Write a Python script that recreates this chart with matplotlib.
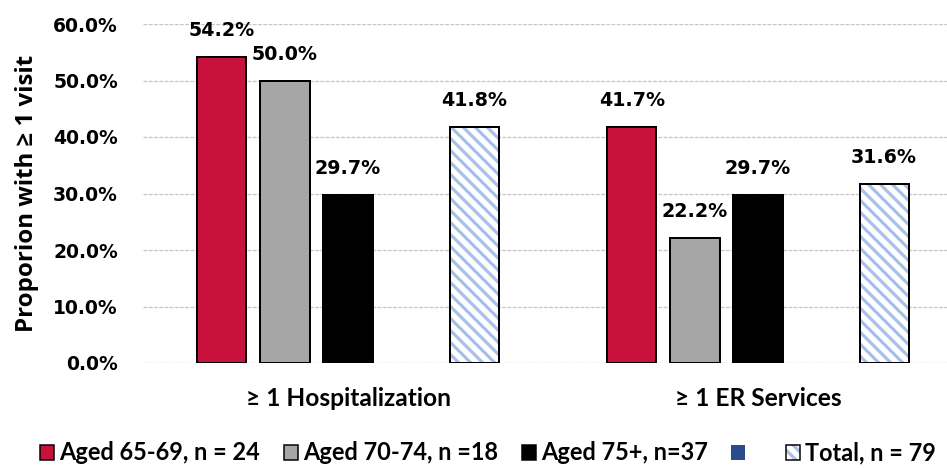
import numpy as np
import matplotlib
matplotlib.use("Agg")
import matplotlib.pyplot as plt
from matplotlib.patches import Patch
from matplotlib.legend_handler import HandlerTuple
from matplotlib.ticker import FuncFormatter

# Data (percent of patients with at least one visit)
categories = ["\u2265 1 Hospitalization", "\u2265 1 ER Services"]
aged_65_69 = [54.2, 41.7]
aged_70_74 = [50.0, 22.2]
aged_75_plus = [29.7, 29.7]
total = [41.8, 31.6]
series_labels = ["Aged 65-69, n = 24", "Aged 70-74, n =18", "Aged 75+, n=37", "  ", "Total, n = 79"]
y_ticks = [0, 10, 20, 30, 40, 50, 60]

RED = "#C9123B"
GRAY = "#A6A6A6"
BLACK = "#000000"
BLUE = "#2B4C8C"
HATCH_BLUE = "#A9C1E8"

plt.rcParams["hatch.linewidth"] = 3.2

fig = plt.figure(figsize=(947 / 72, 468 / 72), dpi=72)
ax = fig.add_axes([143 / 947, 105 / 468, 804 / 947, 339 / 468])

x = np.arange(len(categories))
slot = 1 / 6.5
width = 0.12

def offset(i):
    return (i - 2) * slot

bar_specs = [
    (aged_65_69, RED, 0),
    (aged_70_74, GRAY, 1),
    (aged_75_plus, BLACK, 2),
]
containers = []
for vals, col, i in bar_specs:
    c = ax.bar(x + offset(i), vals, width, color=col, edgecolor="black",
               linewidth=2, zorder=3)
    containers.append((c, vals))

# Total: light-blue diagonal hatch under a black outline
ax.bar(x + offset(4), total, width, color="white", edgecolor=HATCH_BLUE,
       hatch="\\\\", linewidth=0, zorder=3)
c_tot = ax.bar(x + offset(4), total, width, fill=False, edgecolor="black",
               linewidth=2, zorder=4)
containers.append((c_tot, total))

for c, vals in containers:
    ax.bar_label(c, labels=[f"{v:.1f}%" for v in vals], padding=17,
                 fontsize=19, fontweight="bold", family="DejaVu Sans")

ax.set_ylim(0, 60)
ax.set_yticks(y_ticks)
ax.yaxis.set_major_formatter(FuncFormatter(lambda v, p: f"{v:.1f}%"))
ax.set_xlim(-0.5, -0.5 + 804 / 410)
ax.set_xticks(x)
ax.set_xticklabels(categories, family="Lato", fontweight="bold", fontsize=24.5)

ax.tick_params(axis="y", length=0, pad=25, labelsize=18.75)
for lab in ax.get_yticklabels():
    lab.set_fontweight("bold")
    lab.set_family("DejaVu Sans")
ax.tick_params(axis="x", length=0, pad=24)

for s in ax.spines.values():
    s.set_visible(False)
ax.yaxis.grid(True, color="#C8C8C8", linewidth=1.3, linestyle=(0, (3, 1)), zorder=0)
ax.set_axisbelow(True)

ax.set_ylabel("Proporion with \u2265 1 visit", fontsize=24, fontweight="bold",
              family="Open Sans", va="center")
ax.yaxis.set_label_coords((27 - 143) / 804, 0.5)

# Legend
h_red = Patch(facecolor=RED, edgecolor="black", linewidth=1.5)
h_gray = Patch(facecolor=GRAY, edgecolor="black", linewidth=1.5)
h_black = Patch(facecolor=BLACK, edgecolor="black", linewidth=1.5)
h_blue = Patch(facecolor=BLUE, edgecolor="none")
h_tot = (Patch(facecolor="white", edgecolor=HATCH_BLUE, hatch="\\\\", linewidth=0),
         Patch(fill=False, edgecolor="black", linewidth=1.5))
fig.legend([h_red, h_gray, h_black, h_blue, h_tot], series_labels,
           handler_map={tuple: HandlerTuple(ndivide=1)},
           loc="center", bbox_to_anchor=(488 / 947, 15 / 468), ncol=5,
           frameon=False, prop={"family": "Lato", "weight": "bold", "size": 23.5},
           handlelength=0.6, handleheight=0.6, handletextpad=0.22,
           columnspacing=1.0, borderpad=0, borderaxespad=0)

fig.savefig("out.png", dpi=72)
